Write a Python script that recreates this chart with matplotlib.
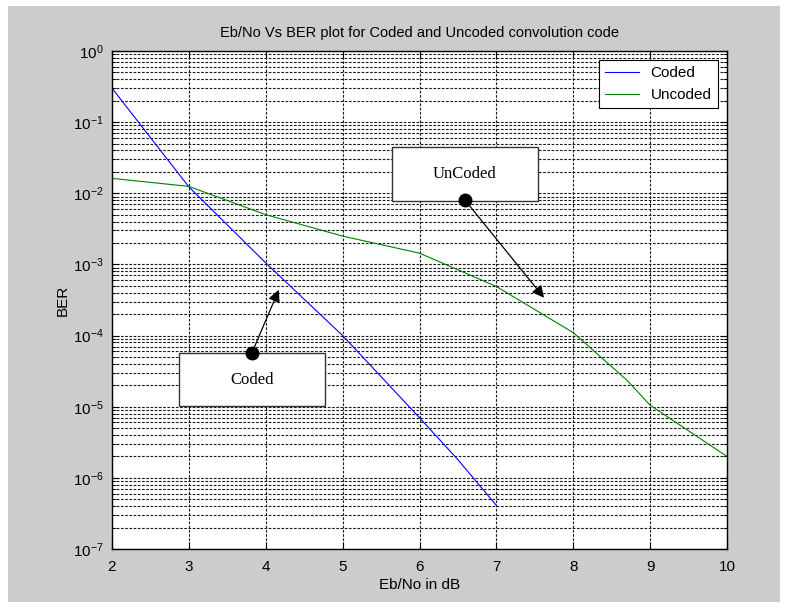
import matplotlib.pyplot as plt
from matplotlib.patches import Rectangle
from matplotlib.ticker import FixedLocator, NullFormatter
import numpy as np

plt.rcParams['font.family'] = ['Liberation Sans', 'DejaVu Sans']
plt.rcParams['mathtext.fontset'] = 'custom'
plt.rcParams['mathtext.rm'] = 'Liberation Sans'

# Eb/No (dB) vs BER
ebno_coded = [2, 3, 4, 5, 6, 6.5, 7]
ber_coded = [0.30, 0.0123, 1.05e-3, 1.0e-4, 7.0e-6, 1.8e-6, 4.1e-7]

ebno_uncoded = [2, 3, 4, 5, 6, 7, 8, 8.7, 9, 10]
ber_uncoded = [0.0162, 0.0125, 5.0e-3, 2.5e-3, 1.44e-3, 4.9e-4, 1.1e-4, 2.35e-5, 1.05e-5, 2.0e-6]

decades = np.arange(-7, 1)

fig = plt.figure(figsize=(7.87, 6.10), dpi=100)
fig.patch.set_facecolor('white')
# grey matlab-style figure background
fig.patches.append(Rectangle((8 / 787, 8 / 610), 772 / 787, 596 / 610,
                             transform=fig.transFigure, facecolor='#cccccc',
                             edgecolor='none', zorder=-10))

ax = fig.add_axes([112 / 787, 61 / 610, 615 / 787, 498 / 610])
ax.plot(ebno_coded, ber_coded, color='#0000ff', lw=0.8, label='Coded')
ax.plot(ebno_uncoded, ber_uncoded, color='#008000', lw=0.8, label='Uncoded')

ax.set_yscale('log')
ax.set_xlim(2, 10)
ax.set_ylim(1e-7, 1)
ax.set_xticks(np.arange(2, 11))
ax.yaxis.set_major_locator(FixedLocator(10.0 ** decades))
minor = [m * 10.0 ** d for d in decades[:-1] for m in range(2, 10)]
ax.yaxis.set_minor_locator(FixedLocator(minor))
ax.yaxis.set_minor_formatter(NullFormatter())

grid_style = dict(color='#1a1a1a', lw=0.8, linestyle=(0, (2.4, 1.4)))
ax.grid(True, which='major', axis='both', **grid_style)
ax.grid(True, which='minor', axis='y', **grid_style)

ax.tick_params(which='both', direction='in', top=True, right=True, labelsize=11)
ax.tick_params(axis='x', pad=8)
ax.tick_params(axis='y', pad=6)
ax.tick_params(which='major', length=5)
ax.tick_params(which='minor', length=3)
for s in ax.spines.values():
    s.set_linewidth(1.0)

ax.set_title('Eb/No Vs BER plot for Coded and Uncoded convolution code', fontsize=10.5, pad=10)
ax.set_xlabel('Eb/No in dB', fontsize=11, labelpad=3)
ax.set_ylabel('BER', fontsize=11, labelpad=2)

leg = ax.legend(loc='upper right', fontsize=11, fancybox=False, framealpha=1,
                edgecolor='black', handlelength=2.2, borderaxespad=0.6)
leg.get_frame().set_linewidth(0.8)

# callout boxes with arrows
def callout(label, box_x, box_y, dot, head):
    x0, x1 = box_x
    y0, y1 = box_y
    ax.add_patch(Rectangle((x0, y0), x1 - x0, y1 - y0, facecolor='white',
                           edgecolor='#333333', lw=1.0, zorder=5))
    ax.text((x0 + x1) / 2, np.sqrt(y0 * y1), label, ha='center', va='center',
            family='Liberation Serif', fontsize=12, zorder=6)
    ax.annotate('', xy=head, xytext=dot, zorder=7,
                arrowprops=dict(arrowstyle='-|>', color='black', lw=0.9,
                                mutation_scale=18, shrinkA=0, shrinkB=0))
    ax.plot(*dot, 'o', color='black', ms=9, zorder=8)

callout('UnCoded', (5.64, 7.54), (7.8e-3, 4.47e-2), (6.59, 8.05e-3), (7.62, 3.4e-4))
callout('Coded', (2.87, 4.77), (1.02e-5, 5.7e-5), (3.82, 5.7e-5), (4.17, 4.4e-4))

fig.savefig('out.png', dpi=100)
